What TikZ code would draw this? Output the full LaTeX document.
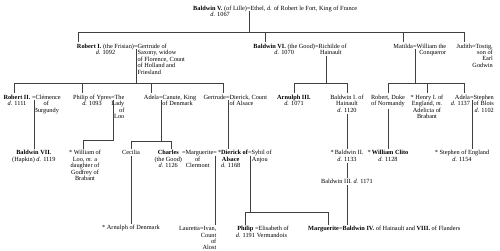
\documentclass[tikz,border=0pt]{standalone}
\usepackage{fontspec}
\setmainfont{Liberation Serif}
\usetikzlibrary{calc}
\newcommand\gfs{\fontsize{6.3}{6.4}\selectfont}
\begin{document}
\begin{tikzpicture}[x=1pt,y=-1pt,
  p/.style={inner sep=0pt, outer sep=0pt, font=\gfs, align=center},
  ln/.style={line width=0.45pt, draw=black!75},
  gap/.style={shorten >=1.5pt}]
\path[use as bounding box, fill=white] (0,0) rectangle (500,251);
\coordinate (y32) at (0,32);
\coordinate (y83) at (0,83);
\coordinate (y140) at (0,140);
\coordinate (y141) at (0,141);
\coordinate (y212) at (0,212);
% row 0
\node[p, anchor=north east] (b5) at (247,6) {\textbf{Baldwin V.} (of Lille)\\\textit{d.} 1067};
\node[p, anchor=north west] (eth) at (247,6) {=Ethel, \textit{d.} of Robert le Fort, King of France};
% row 1
\node[p, anchor=north east] (r1) at (134,44) {\textbf{Robert I.} (the Frisian)\\\textit{d.} 1092};
\node[p, anchor=north west, align=left] (gert) at (134,44) {=Gertrude of\\\hphantom{=}Saxony, widow\\\hphantom{=}of Florence, Count\\\hphantom{=}of Holland and\\\hphantom{=}Friesland};
\node[p, anchor=north east] (b6) at (315,44) {\textbf{Baldwin VI.} (the Good)\\\textit{d.} 1070};
\node[p, anchor=north west] (rich) at (315,44) {=Richilde of\\Hainault};
\node[p, anchor=north east] (mat) at (413,44) {Matilda};
\node[p, anchor=north west, align=right] (wil) at (413,44) {=William the\\Conqueror};
\node[p, anchor=north east] (jud) at (472,44) {Judith};
\node[p, anchor=north west, align=right] (tos) at (472,44) {=Tostig,\\son of\\Earl\\Godwin};
% row 2
\node[p, anchor=north] (r2) at (17,95) {\textbf{Robert II.}\\\textit{d.} 1111};
\node[p, anchor=north west] (clem) at (32,95) {=Clémence\\of\\Burgundy};
\node[p, anchor=north east] (pyp) at (111,95) {Philip of Ypres\\\textit{d.} 1093};
\node[p, anchor=north west, align=right] (lady) at (111,95) {=The\\Lady\\of\\Loo};
\node[p, anchor=north east] (ad1) at (159,95) {Adela};
\node[p, anchor=north west] (can) at (159,95) {=Canute, King\\of Denmark};
\node[p, anchor=north east] (gt2) at (226,95) {Gertrude};
\node[p, anchor=north west, align=left] (dck) at (226,95) {=Dierick, Count\\\hphantom{=}of Alsace};
\node[p, anchor=north] (arn) at (294,95) {\textbf{Arnulph III.}\\\textit{d.} 1071};
\node[p, anchor=north] (bh1) at (347,95) {Baldwin I. of\\Hainault\\\textit{d.} 1120};
\node[p, anchor=north] (rdn) at (388,95) {Robert, Duke\\of Normandy};
\node[p, anchor=north] (hen) at (427,95) {* Henry I. of\\England, \textit{m.}\\Adelicia of\\Brabant};
\node[p, anchor=north east, align=right] (ad2) at (470,95) {Adela\\\textit{d.} 1137};
\node[p, anchor=north west, align=right] (ste) at (470,95) {=Stephen\\of Blois\\\textit{d.} 1102};
% row 3
\node[p, anchor=north] (b7) at (33.8,150.5) {\textbf{Baldwin VII.}\\(Hapkin) \textit{d.} 1119};
\node[p, anchor=north] (wl) at (85,150.5) {* William of\\Loo, \textit{m.} a\\daughter of\\Godfrey of\\Brabant};
\node[p, anchor=north] (cec) at (131,150.5) {Cecilia};
\node[p, anchor=north east] (cha) at (182,150.5) {\textbf{Charles}\\(the Good)\\\textit{d.} 1126};
\node[p, anchor=north west] (mrg) at (cha.north east) {=Marguerite\\of\\Clermont};
\node[p, anchor=north west] (die) at (mrg.north east) {=\,*\textbf{Dierick of}\\\textbf{Alsace}\\\textit{d.} 1168};
\node[p, anchor=north west] (syb) at (die.north east) {=Sybil of\\Anjou};
\node[p, anchor=north] (bh2) at (347,150.5) {*\,Baldwin II.\\\textit{d.} 1133};
\node[p, anchor=north] (cli) at (388,150.5) {*\,\textbf{William Clito}\\\textit{d.} 1128};
\node[p, anchor=north] (soe) at (462,150.5) {* Stephen of England\\\textit{d.} 1154};
\node[p, anchor=north] (b3) at (347,179.5) {Baldwin III. \textit{d.} 1171};
% row 4
\node[p, anchor=north] (arnd) at (131,225.5) {* Arnulph of Denmark};
\node[p, anchor=north east] (lau) at (200,226.5) {Lauretta};
\node[p, anchor=north west, align=right] (iva) at (200,226.5) {=Ivan,\\Count\\of\\Alost};
\node[p, anchor=north east] (phil) at (255,226.5) {\textbf{Philip}\\\textit{d.} 1191};
\node[p, anchor=north west] (eli) at (255,226.5) {=Elisabeth of\\Vermandois};
\node[p, anchor=north east] (marg) at (339,226.5) {\textbf{Marguerite}};
\node[p, anchor=north west] (b4) at (339,226.5) {=\textbf{Baldwin IV.} of Hainault and \textbf{VIII.} of Flanders};
% connectors
\coordinate (e0) at ([xshift=1.8pt,yshift=-5pt]eth.north west);
\draw[ln] (e0) -- (e0 |- y32);
\draw[ln,gap] (e0 |- y32) -| ([xshift=1pt]r1.north west);
\draw[ln,gap] (e0 |- y32) -| ([xshift=12pt]b6.north west);
\draw[ln,gap] (e0 |- y32) -| (mat.north);
\draw[ln,gap] (e0 |- y32) -| (jud.north);
\coordinate (e1) at ([xshift=1.8pt,yshift=-5pt]gert.north west);
\draw[ln] (e1) -- (e1 |- y83);
\draw[ln,gap] (e1 |- y83) -| ([xshift=-3pt]r2.north);
\draw[ln,gap] (e1 |- y83) -| ([xshift=-10pt]pyp.north);
\draw[ln,gap] (e1 |- y83) -| (ad1.north);
\draw[ln,gap] (e1 |- y83) -| ([xshift=8pt]gt2.north);
\coordinate (e2) at ([xshift=-5pt,yshift=-1.5pt]rich.south);
\draw[ln] (e2) -- (e2 |- y83);
\draw[ln,gap] (e2 |- y83) -| (arn.north);
\draw[ln,gap] (e2 |- y83) -| (bh1.north);
\coordinate (e3) at ([xshift=1.8pt,yshift=-5pt]wil.north west);
\draw[ln] (e3) -- (e3 |- y83);
\draw[ln,gap] (e3 |- y83) -| (rdn.north);
\draw[ln,gap] (e3 |- y83) -| (hen.north);
\draw[ln,gap] (e3 |- y83) -| ([xshift=4pt]ad2.north);
\coordinate (e4) at ([xshift=1.8pt,yshift=-5pt]clem.north west);
\draw[ln,gap] (e4) -- (e4 |- b7.north);
\coordinate (e5) at ([xshift=1.8pt,yshift=-5pt]lady.north west);
\draw[ln,gap] (e5) -- (e5 |- y140) -| ([xshift=-2pt]wl.north);
\coordinate (e6) at ([xshift=1.8pt,yshift=-5pt]can.north west);
\draw[ln] (e6) -- (e6 |- y141);
\draw[ln,gap] (e6 |- y141) -| (cec.north);
\draw[ln,gap] (e6 |- y141) -| ([xshift=3pt]cha.north);
\coordinate (e7) at ([xshift=1.8pt,yshift=-5pt]dck.north west);
\draw[ln,gap] (e7) -- (e7 |- die.north);
\draw[ln,shorten <=1.5pt,gap] (bh1.south) -- (bh1.south |- bh2.north);
\draw[ln,shorten <=1.5pt,gap] (bh2.south) -- (bh2.south |- b3.north);
\draw[ln,shorten <=1.5pt,gap] (b3.south) -- (b3.south |- b4.north);
\draw[ln,shorten <=1.5pt,gap] (rdn.south) -- (rdn.south |- cli.north);
\coordinate (e8) at ([xshift=1.8pt,yshift=-5pt]ste.north west);
\draw[ln,gap] (e8) -- (e8 |- soe.north);
\draw[ln,shorten <=1.5pt,gap] (cec.south) -- (cec.south |- arnd.north);
\coordinate (e9) at ([xshift=1.8pt,yshift=-5pt]die.north west);
\draw[ln,gap] (e9) -- (e9 |- iva.north);
\coordinate (e10) at ([xshift=1.8pt,yshift=-5pt]syb.north west);
\draw[ln] (e10) -- (e10 |- y212);
\draw[ln,gap] (e10 |- y212) -| (phil.north);
\draw[ln,gap] (e10 |- y212) -| ([xshift=5pt]marg.north);
\end{tikzpicture}
\end{document}
